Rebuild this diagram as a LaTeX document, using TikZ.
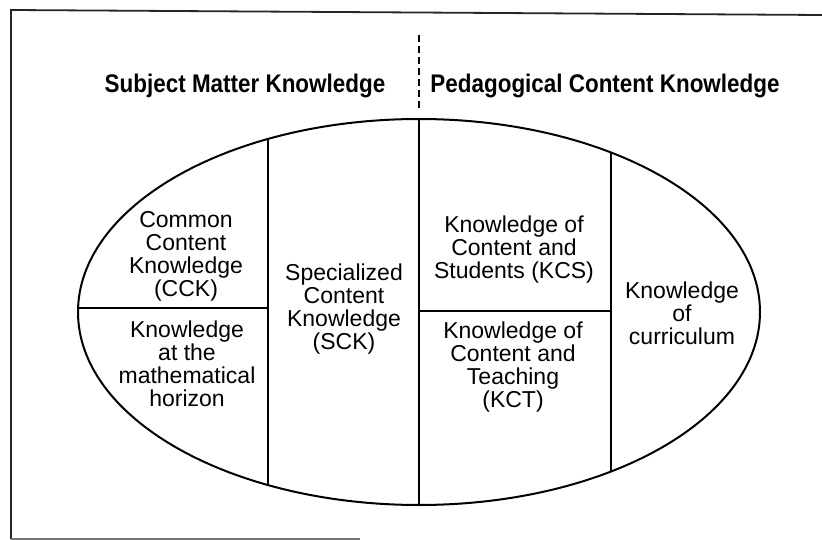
\documentclass[tikz,border=0pt]{standalone}
\usepackage{fontspec}
\setmainfont{Liberation Sans}
\begin{document}
\begin{tikzpicture}[x=1pt,y=-1pt,
  part/.style={line width=2pt,black},
  frameline/.style={line width=1.8pt,black!85},
  lbl/.style={align=center,inner sep=0pt,font=\fontsize{23}{23}\selectfont},
  ttl/.style={inner sep=0pt,anchor=base,xscale=0.88,font=\fontsize{25.5}{28}\selectfont\bfseries}]
\useasboundingbox (0,0) rectangle (822,540);
% frame
\coordinate (f1) at (11,10);
\coordinate (f2) at (822,15);
\coordinate (f3) at (11,539);
\coordinate (f4) at (360,539);
\draw[frameline] (f2) -- (f1) -- (f3);
\draw[frameline,black!55] (f3) -- (f4);
% titles
\node[ttl] (smk) at (245,93) {Subject Matter Knowledge};
\node[ttl] (pck) at (605,93) {Pedagogical Content Knowledge};
\coordinate (d1) at (419,35);
\coordinate (d2) at (419,110);
\draw[line width=1.2pt,dash pattern=on 7pt off 4pt] (d1) -- (d2);
% ellipse
\coordinate (c) at (419,312);
\draw[part] (c) ellipse [x radius=341, y radius=193];
\coordinate (a1) at (268,139);
\coordinate (a2) at (268,485);
\coordinate (b1) at (419,119);
\coordinate (b2) at (419,505);
\coordinate (e1) at (611,152.5);
\coordinate (e2) at (611,471.5);
\coordinate (h1) at (78,308);
\coordinate (h2) at (268,308);
\coordinate (k1) at (419,311);
\coordinate (k2) at (611,311);
\draw[part] (a1) -- (a2);
\draw[part] (b1) -- (b2);
\draw[part] (e1) -- (e2);
\draw[part] (h1) -- (h2);
\draw[part] (k1) -- (k2);
% labels
\node[lbl] (cck) at (186,256) {Common\\Content\\Knowledge\\(CCK)};
\node[lbl] (hor) at (187,364) {Knowledge\\at the\\mathematical\\horizon};
\node[lbl] (sck) at (344,309) {Specialized\\Content\\Knowledge\\(SCK)};
\node[lbl] (kcs) at (514,250) {Knowledge of\\Content and\\Students (KCS)};
\node[lbl] (kct) at (513,367) {Knowledge of\\Content and\\Teaching\\(KCT)};
\node[lbl] (kc) at (682,313) {Knowledge\\of\\curriculum};
\end{tikzpicture}
\end{document}
